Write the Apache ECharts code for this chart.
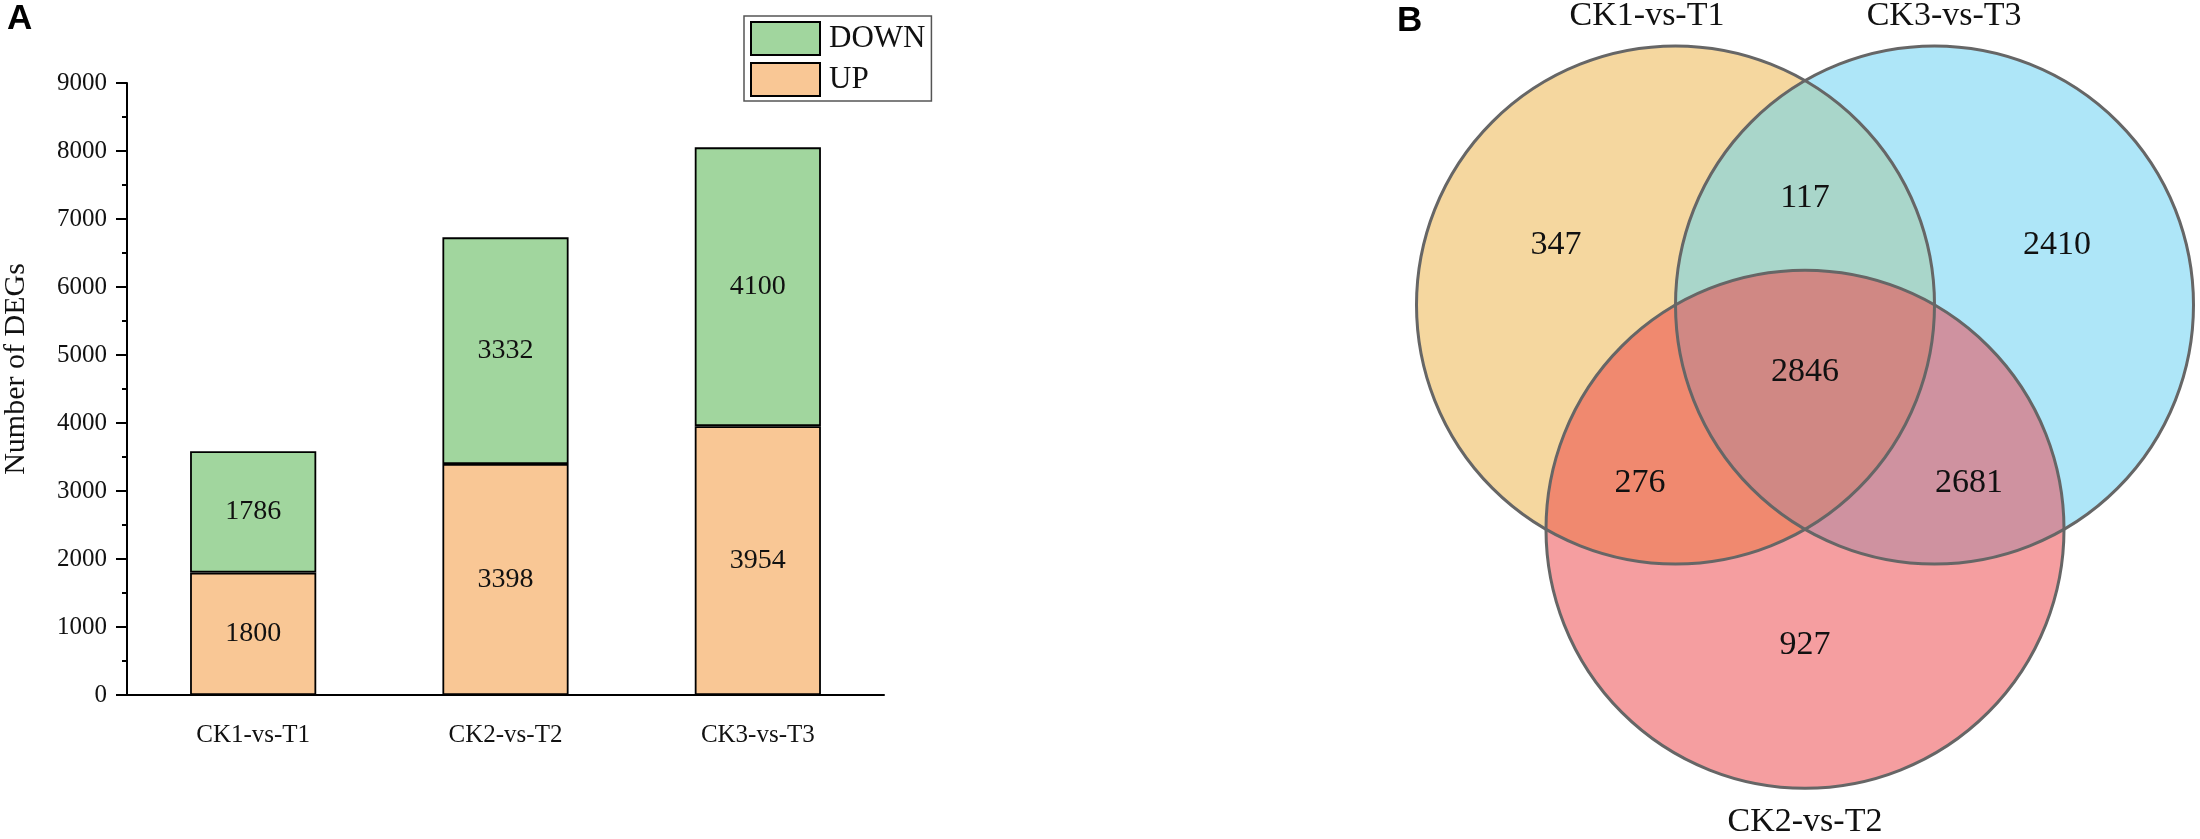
<!DOCTYPE html>
<html lang="en">
<head>
    <meta charset="utf-8" />
    <script src="https://cdn.jsdelivr.net/npm/echarts@6/dist/echarts.min.js"></script>
    <title>deg_counts_venn</title>
    <style>
        body { margin: 0; background: #fff; }
    </style>
</head>

<body>
<div id="main" style="width:2200px; height:839px;"></div>
<script type="text/javascript">
    // --- panel A data ---
    const categories = ['CK1-vs-T1', 'CK2-vs-T2', 'CK3-vs-T3'];
    const upCounts = [1800, 3398, 3954];
    const downCounts = [1786, 3332, 4100];
    const yMax = 9000;
    const yStep = 1000;

    // --- panel B data ---
    const vennSets = ['CK1-vs-T1', 'CK3-vs-T3', 'CK2-vs-T2'];
    // regions: 3 singles, then pairs (0&1, 0&2, 1&2), then all three
    const vennRegions = [[0], [1], [2], [0, 1], [0, 2], [1, 2], [0, 1, 2]];
    const vennCounts = [347, 2410, 927, 117, 276, 2681, 2846];

    // venn layout, in circle radii
    const vennCentres = [[-0.5, 0], [0.5, 0], [0, -0.866]];
    const countSpots = [[-0.961, 0.232], [0.973, 0.232], [0, -1.313],
                        [0, 0.413], [-0.637, -0.687], [0.633, -0.687], [0, -0.259]];
    const setSpots = [[-0.610, 1.116], [0.537, 1.116], [0, -1.996]];
    const regionColours = ['#F5D79F', '#AEE6F8', '#F59EA0',
                           '#A9D6CA', '#F0896F', '#CF92A0', '#D08884'];

    const serif = 'Liberation Serif';
    const ink = '#111';

    // venn grid: 259px per radius, origin at 405/305 inside an 800x839 box
    const unit = 259, ox = 405, oy = 305, vw = 800, vh = 839;

    function meet(a, b, r) {
        const dx = b[0] - a[0], dy = b[1] - a[1], d = Math.hypot(dx, dy);
        const h = Math.sqrt(r * r - d * d / 4);
        const mx = (a[0] + b[0]) / 2, my = (a[1] + b[1]) / 2;
        return [[mx - h * dy / d, my + h * dx / d], [mx + h * dy / d, my - h * dx / d]];
    }
    function closest(pts, c) {
        const d0 = Math.hypot(pts[0][0] - c[0], pts[0][1] - c[1]);
        const d1 = Math.hypot(pts[1][0] - c[0], pts[1][1] - c[1]);
        return d0 < d1 ? pts[0] : pts[1];
    }
    function arcTo(p, r) {
        return ' A' + r + ',' + r + ' 0 0 1 ' + p[0] + ',' + p[1];
    }

    function renderRegion(params, api) {
        const idx = api.value(0);
        const sets = vennRegions[idx];
        const c = vennCentres.map(v => api.coord(v));
        const r = api.size([1, 0])[0];
        const fill = regionColours[idx];
        if (sets.length === 1) {
            const p = c[sets[0]];
            return { type: 'circle', shape: { cx: p[0], cy: p[1], r: r }, style: { fill: fill } };
        }
        if (sets.length === 2) {
            const pq = meet(c[sets[0]], c[sets[1]], r);
            const d = 'M' + pq[0][0] + ',' + pq[0][1] + arcTo(pq[1], r) + arcTo(pq[0], r) + 'Z';
            return { type: 'path', shape: { pathData: d }, style: { fill: fill } };
        }
        let pts = [closest(meet(c[0], c[1], r), c[2]),
                   closest(meet(c[0], c[2], r), c[1]),
                   closest(meet(c[1], c[2], r), c[0])];
        const gx = (pts[0][0] + pts[1][0] + pts[2][0]) / 3;
        const gy = (pts[0][1] + pts[1][1] + pts[2][1]) / 3;
        pts.sort((a, b) => Math.atan2(a[1] - gy, a[0] - gx) - Math.atan2(b[1] - gy, b[0] - gx));
        const d = 'M' + pts[0][0] + ',' + pts[0][1] + arcTo(pts[1], r) + arcTo(pts[2], r) + arcTo(pts[0], r) + 'Z';
        return { type: 'path', shape: { pathData: d }, style: { fill: fill } };
    }

    function renderOutline(params, api) {
        const p = api.coord([api.value(0), api.value(1)]);
        const r = api.size([1, 0])[0];
        return {
            type: 'circle',
            shape: { cx: p[0], cy: p[1], r: r },
            style: { fill: 'none', stroke: '#666', lineWidth: 3 }
        };
    }

    function renderText(params, api) {
        const p = api.coord([api.value(0), api.value(1)]);
        return {
            type: 'text',
            x: p[0], y: p[1],
            style: {
                text: String(api.value(2)),
                fontSize: 34, fontFamily: serif, fill: ink,
                align: 'center', verticalAlign: 'middle'
            }
        };
    }

    let myChart = echarts.init(document.getElementById('main'));

    option = {
        animation: false,
        backgroundColor: '#fff',
        graphic: [
            { type: 'text', left: 7, top: 2, style: { text: 'A', fontSize: 35, fontWeight: 'bold', fontFamily: 'Liberation Sans', fill: '#000' } },
            { type: 'text', left: 1397, top: 4, style: { text: 'B', fontSize: 35, fontWeight: 'bold', fontFamily: 'Liberation Sans', fill: '#000' } }
        ],
        legend: {
            data: ['DOWN', 'UP'],
            orient: 'vertical',
            left: 744, top: 16,
            icon: 'rect',
            itemWidth: 69, itemHeight: 33, itemGap: 6,
            padding: [5, 6, 4, 6],
            borderColor: '#555', borderWidth: 1.5,
            itemStyle: { borderColor: '#000', borderWidth: 2 },
            textStyle: { fontSize: 31, fontFamily: serif, color: ink, padding: [0, 0, 0, 4] }
        },
        grid: [
            { left: 125, top: 83, width: 759, bottom: 144 },
            { left: 1400, top: 0, width: vw, height: vh }
        ],
        xAxis: [
            {
                type: 'category', gridIndex: 0, data: categories,
                axisLine: { lineStyle: { color: '#000', width: 2 } },
                axisTick: { alignWithLabel: true, length: 11, lineStyle: { color: '#000', width: 2 } },
                axisLabel: { fontSize: 25, fontFamily: serif, color: ink, margin: 28 }
            },
            {
                type: 'category', gridIndex: 0, data: categories, position: 'bottom',
                axisLine: { show: false },
                axisTick: { length: 5, lineStyle: { color: '#000', width: 2 } },
                axisLabel: { show: false }
            },
            {
                type: 'value', gridIndex: 1, show: false,
                min: -ox / unit, max: (vw - ox) / unit
            }
        ],
        yAxis: [
            {
                type: 'value', gridIndex: 0, min: 0, max: yMax, interval: yStep,
                name: 'Number of DEGs', nameLocation: 'middle', nameGap: 96,
                nameTextStyle: { fontSize: 30, fontFamily: serif, color: ink, padding: [0, 0, 0, 40] },
                axisLine: { show: true, lineStyle: { color: '#000', width: 2 } },
                axisTick: { show: true, length: 11, lineStyle: { color: '#000', width: 2 } },
                minorTick: { show: true, splitNumber: 2, length: 5, lineStyle: { color: '#000', width: 2 } },
                splitLine: { show: false },
                axisLabel: {
                    fontSize: 25, fontFamily: serif, color: ink, margin: 20,
                    formatter: function (v) { return String(v); }
                }
            },
            {
                type: 'value', gridIndex: 1, show: false,
                min: -(vh - oy) / unit, max: oy / unit
            }
        ],
        series: [
            {
                name: 'UP', type: 'bar', stack: 'deg', barWidth: '50%',
                xAxisIndex: 0, yAxisIndex: 0,
                data: upCounts,
                itemStyle: { color: '#F9C795', borderColor: '#000', borderWidth: 1.8 },
                label: { show: true, position: 'inside', fontSize: 28, fontFamily: serif, color: ink }
            },
            {
                name: 'DOWN', type: 'bar', stack: 'deg', barWidth: '50%',
                xAxisIndex: 0, yAxisIndex: 0,
                data: downCounts,
                itemStyle: { color: '#A1D69E', borderColor: '#000', borderWidth: 1.8 },
                label: { show: true, position: 'inside', fontSize: 28, fontFamily: serif, color: ink }
            },
            {
                type: 'custom', xAxisIndex: 2, yAxisIndex: 1,
                renderItem: renderRegion,
                data: vennRegions.map((s, i) => [i]),
                silent: true, z: 2
            },
            {
                type: 'custom', xAxisIndex: 2, yAxisIndex: 1,
                renderItem: renderOutline,
                data: vennCentres,
                silent: true, z: 3
            },
            {
                type: 'custom', xAxisIndex: 2, yAxisIndex: 1,
                renderItem: renderText,
                data: vennCounts.map((v, i) => [countSpots[i][0], countSpots[i][1], v])
                    .concat(vennSets.map((s, i) => [setSpots[i][0], setSpots[i][1], s])),
                dimensions: ['x', 'y', { name: 'text', type: 'ordinal' }],
                silent: true, z: 4
            }
        ]
    };
    myChart.setOption(option);
</script>
</body>
</html>
